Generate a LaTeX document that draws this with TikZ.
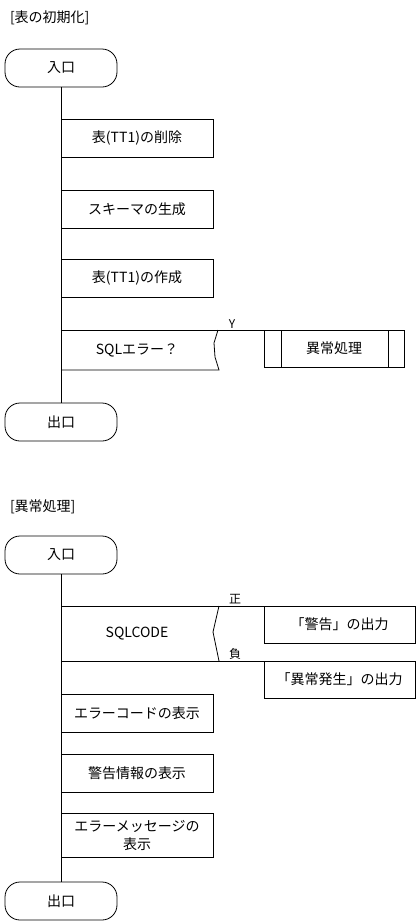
\documentclass[tikz,border=0pt]{standalone}
\usepackage{fontspec}
\setmainfont{Noto Sans CJK JP}
\usetikzlibrary{positioning}

\begin{document}
\begin{tikzpicture}[x=1pt, y=-1pt, line width=0.8pt, font=\fontsize{14}{18}\selectfont,
  every node/.style={outer sep=0pt},
  term/.style={draw, rectangle, rounded corners=15pt, minimum width=112pt, minimum height=38pt},
  proc/.style={draw, rectangle, minimum width=152pt, minimum height=38pt, inner sep=2pt},
  subproc/.style={draw, rectangle, minimum width=140pt, minimum height=37pt},
  outbox/.style={draw, rectangle, minimum width=151pt, minimum height=37pt},
  cond/.style={rectangle, minimum width=152pt, inner sep=0pt},
  branch/.style={inner sep=1pt, font=\fontsize{12}{14}\selectfont},
  title/.style={anchor=west, inner sep=0pt}]

\useasboundingbox (0,0) rectangle (417,922);

% [表の初期化]
\node[title] (t1) at (10,18) {[表の初期化]};
\node[term] (in1) at (61,68) {入口};
\node[proc, below=32pt of in1.south, anchor=north west] (del) {表(TT1)の削除};
\node[proc, below=33pt of del.south west, anchor=north west] (schema) {スキーマの生成};
\node[proc, below=31pt of schema.south west, anchor=north west] (create) {表(TT1)の作成};
\node[cond, minimum height=40pt, below=33pt of create.south west, anchor=north west] (sqlerr) {SQLエラー？};
\node[subproc, right=51pt of sqlerr.north east, anchor=north west] (abn) {異常処理};
\node[branch, above=1pt of sqlerr.north east, xshift=19pt] (yes) {Y};
\node[term, below=33pt of sqlerr.south west, anchor=north] (out1) {出口};

\draw (in1) -- (out1);
\draw (sqlerr.north west) -- (abn.north west);
\draw ([xshift=5pt]sqlerr.north east) -- ++(-4,13) -- ++(1,14) -- ++(4,13) -- (sqlerr.south west);
\draw ([xshift=17pt]abn.north west) -- ([xshift=17pt]abn.south west);
\draw ([xshift=-16pt]abn.north east) -- ([xshift=-16pt]abn.south east);

% [異常処理]
\node[title] (t2) at (10,507) {[異常処理]};
\node[term] (in2) at (61,555) {入口};
\node[cond, minimum height=55pt, below=32pt of in2.south, anchor=north west] (sqlcode) {SQLCODE};
\node[outbox, right=51pt of sqlcode.north east, anchor=north west] (warn) {「警告」の出力};
\node[outbox, right=51pt of sqlcode.south east, anchor=north west] (abnout) {「異常発生」の出力};
\node[branch, above=1pt of sqlcode.north east, xshift=22pt] (pos) {正};
\node[branch, above=1pt of sqlcode.south east, xshift=22pt] (neg) {負};
\node[proc, below=33pt of sqlcode.south west, anchor=north west] (errcode) {エラーコードの表示};
\node[proc, below=22pt of errcode.south west, anchor=north west] (warninfo) {警告情報の表示};
\node[proc, minimum height=44pt, align=center, below=21pt of warninfo.south west, anchor=north west] (errmsg) {エラーメッセージの\\表示};
\node[term, below=25pt of errmsg.south west, anchor=north] (out2) {出口};

\draw (in2) -- (out2);
\draw (sqlcode.north west) -- (warn.north west);
\draw (sqlcode.south west) -- (abnout.north west);
\draw ([xshift=6pt]sqlcode.north east) -- ++(-6,26) -- ++(6,29);
\end{tikzpicture}
\end{document}
